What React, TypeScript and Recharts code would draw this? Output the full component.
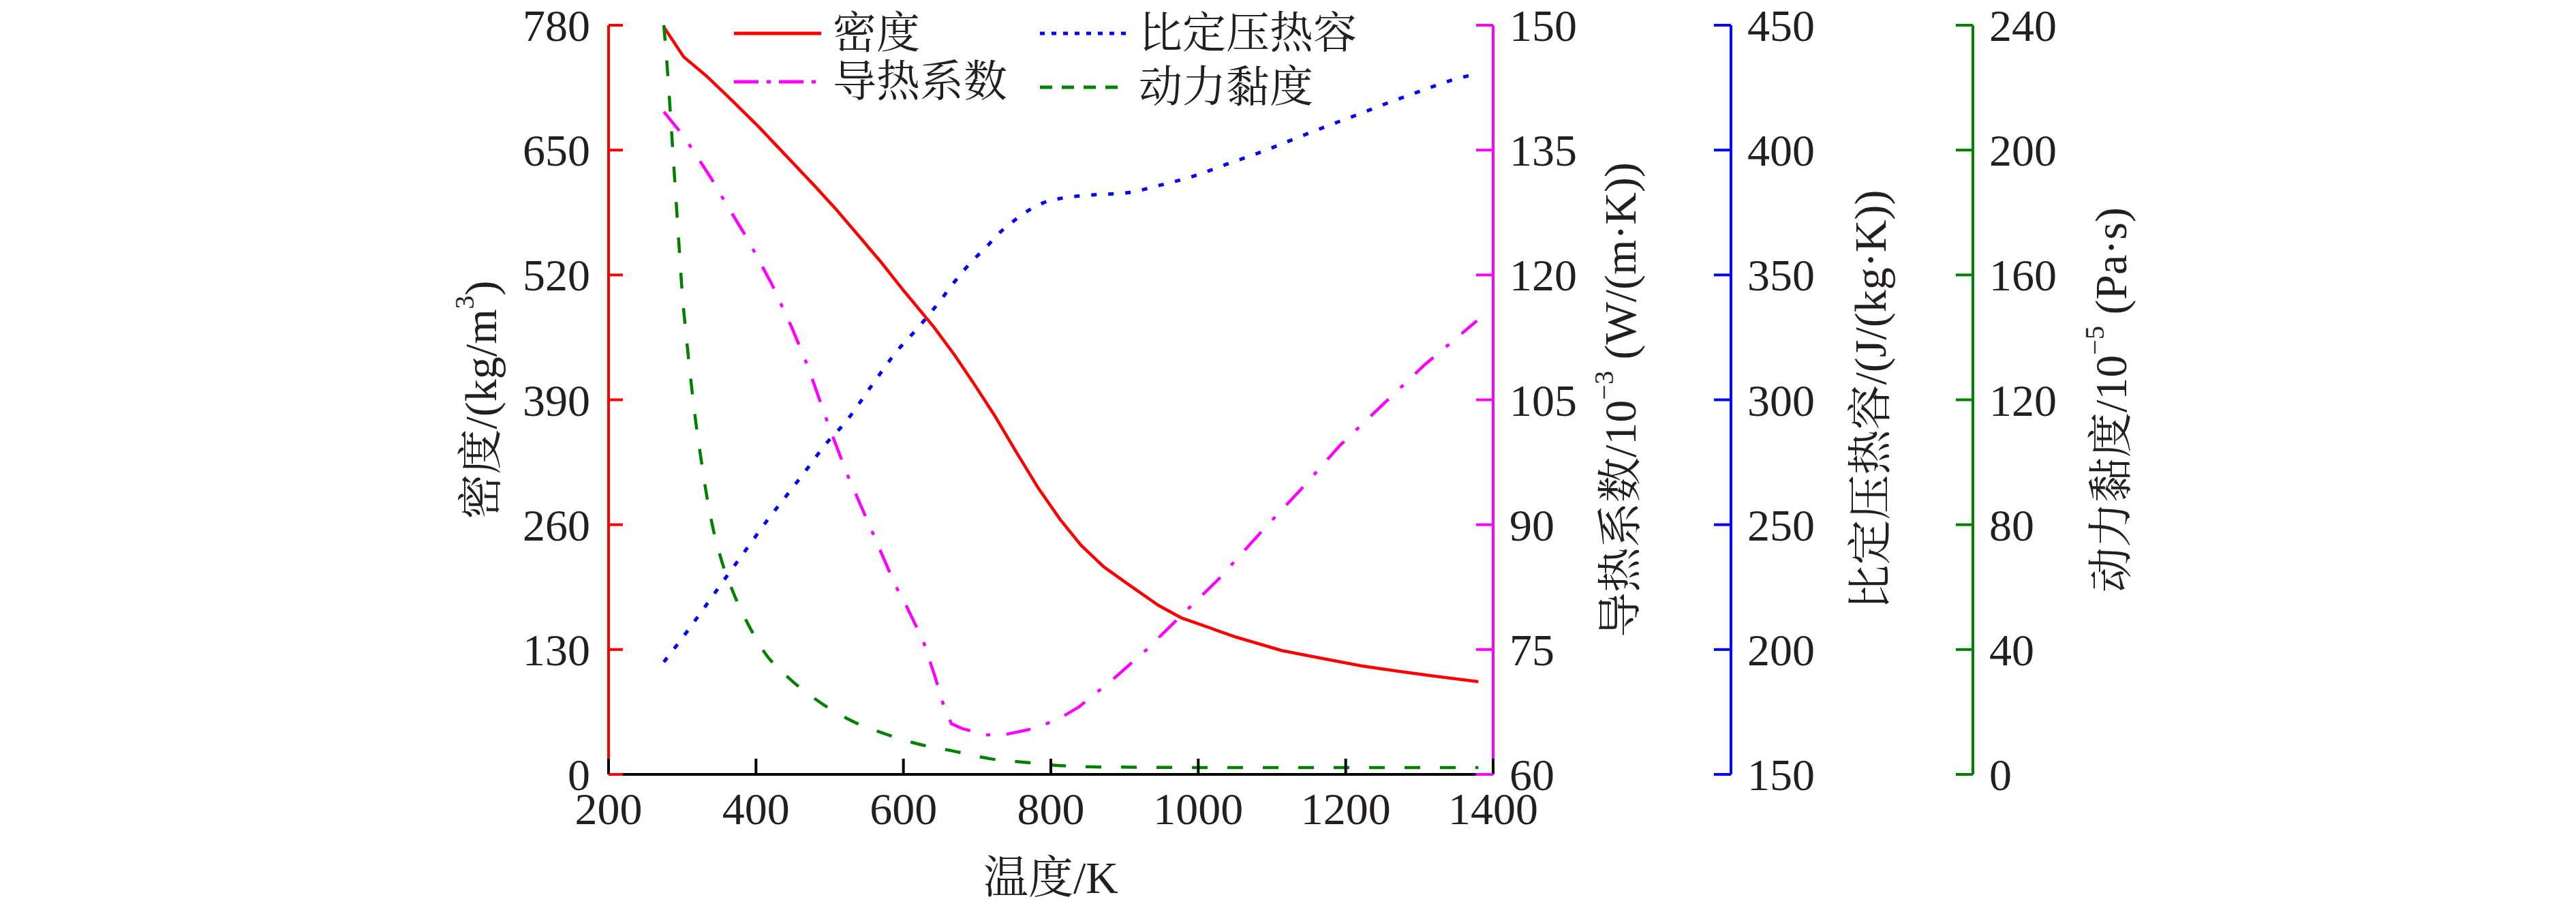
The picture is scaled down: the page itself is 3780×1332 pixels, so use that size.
import { LineChart, Line, XAxis, YAxis, Legend, Label } from "recharts";

// ---- data ----
const tempTicks = [200, 400, 600, 800, 1000, 1200, 1400];
const densityTicks = [0, 130, 260, 390, 520, 650, 780];
const conductTicks = [60, 75, 90, 105, 120, 135, 150];
const heatTicks = [150, 200, 250, 300, 350, 400, 450];
const viscTicks = [0, 40, 80, 120, 160, 200, 240];

const densityT = [275, 302, 333, 367, 404, 441, 478, 509, 539, 570, 601, 641, 669, 696, 724, 752, 783, 813, 841, 872, 903, 946, 977, 1051, 1113, 1170, 1221, 1270, 1323, 1380];
const densityV = [778, 747, 727, 702, 674, 644, 614, 588, 561, 533, 503, 466, 437, 406.4, 373.3, 337, 298, 265, 238.5, 216, 199, 176, 163, 143, 129, 120.5, 113, 107.5, 102, 96.5];

const conductT = [275, 297, 313, 345, 357, 388, 422, 449, 470, 499, 524, 556, 589, 601, 627, 643, 653, 665, 680, 712, 736, 782, 817, 838, 884, 930, 969, 1027, 1085, 1142, 1192, 1250, 1307, 1378];
const conductV = [139.6, 137.2, 135.2, 130.8, 128.9, 124.4, 118.8, 113.6, 109.1, 101.8, 96, 89.5, 82.7, 80.8, 76, 71.7, 68.7, 66.1, 65.5, 64.75, 64.75, 65.6, 67, 68.1, 71.4, 75, 78.4, 83.4, 89.1, 94.5, 99.5, 104.4, 109.2, 114.5];

const heatT = [275, 305, 333, 361, 388, 416, 445, 475, 490, 524, 556, 589, 622, 652, 666, 696, 712, 729, 747, 768, 789, 814, 856, 906, 949, 995, 1041, 1085, 1128, 1171, 1217, 1260, 1304, 1347, 1378];
const heatV = [195, 206.6, 218, 229.6, 240.6, 252, 263, 274.6, 280.6, 292, 305.3, 318.7, 329.6, 340.5, 346, 356.4, 361, 366.5, 371, 375.5, 378.8, 380.7, 382, 383, 386, 389.7, 394.6, 399.2, 404.2, 409.2, 414.3, 419.2, 423.9, 428.3, 430.5];

const viscT = [275, 281, 286, 291, 296, 300, 306, 312, 318, 325, 332, 341, 353, 370, 390, 413, 444, 490, 532, 576, 622, 669, 718, 764, 814, 860, 910, 1000, 1200, 1380];
const viscV = [240, 222, 204, 186, 168, 154, 139, 125.5, 113.5, 101.8, 90.9, 79.6, 68.7, 57.8, 47.8, 38.6, 31, 22.6, 16.9, 12.9, 9.6, 7.4, 5, 3.9, 2.8, 2.4, 2.3, 2.2, 2.2, 2.2];

const zip = (t: number[], v: number[]) => t.map((x, i) => ({ t: x, v: v[i] }));

// ---- styling / layout ----
const FONT = "'Liberation Serif', 'Times New Roman', 'Noto Serif CJK SC', 'Noto Sans CJK SC', serif";
const INK = "#231f20";
const W = 3780;
const H = 1332;
const PLOT_LEFT = 893;
const PLOT_TOP = 37;
const PLOT_BOTTOM = 1136;
const PLOT_MID = (PLOT_TOP + PLOT_BOTTOM) / 2;
const TICK_FONT = 66;
const TITLE_FONT = 66;
const SUP_FONT = 40;
const SUP_RISE = 24;
const RED = "#ff0000";
const MAGENTA = "#ff00ff";
const BLUE = "#0000ff";
const GREEN = "#008000";

const LEGEND = [
  { name: "密度", color: RED, dash: undefined, left: 1077, top: 49 },
  { name: "导热系数", color: MAGENTA, dash: "36 12 6 12", left: 1077, top: 120 },
  { name: "比定压热容", color: BLUE, dash: "7 10", left: 1526, top: 49 },
  { name: "动力黏度", color: GREEN, dash: "18 14", left: 1526, top: 128 },
];

function LeftTick(props: any) {
  const { x, y, payload, color, margin } = props;
  const ax = x + margin;
  return (
    <g>
      <line x1={ax} x2={ax + 21} y1={y} y2={y} stroke={color} strokeWidth={4} />
      <text x={x} y={y + 23} textAnchor="end" fontFamily={FONT} fontSize={TICK_FONT} fill={INK}>
        {payload.value}
      </text>
    </g>
  );
}

function RightTick(props: any) {
  const { x, y, payload, color, margin } = props;
  const ax = x - margin;
  return (
    <g>
      <line x1={ax} x2={ax - 25} y1={y} y2={y} stroke={color} strokeWidth={4} />
      <text x={x} y={y + 23} textAnchor="start" fontFamily={FONT} fontSize={TICK_FONT} fill={INK}>
        {payload.value}
      </text>
    </g>
  );
}

function BottomTick(props: any) {
  const { x, y, payload } = props;
  return (
    <g>
      <line x1={x} x2={x} y1={y} y2={y - 23} stroke="#000" strokeWidth={4} />
      <text x={x} y={y + 73} textAnchor="middle" fontFamily={FONT} fontSize={TICK_FONT} fill={INK}>
        {payload.value}
      </text>
    </g>
  );
}

// rotated axis title: head + superscript + tail
function VTitle({ cx, head, sup, tail }: { cx: number; head: string; sup?: string; tail?: string }) {
  return (
    <text
      x={cx}
      y={PLOT_MID}
      transform={`rotate(-90 ${cx} ${PLOT_MID})`}
      textAnchor="middle"
      dominantBaseline="central"
      fontFamily={FONT}
      fontSize={TITLE_FONT}
      fill={INK}
    >
      <tspan>{head}</tspan>
      {sup ? (
        <tspan dy={-SUP_RISE} fontSize={SUP_FONT}>
          {sup}
        </tspan>
      ) : null}
      {tail ? <tspan dy={sup ? SUP_RISE : 0}>{tail}</tspan> : null}
    </text>
  );
}

function LegendBox() {
  return (
    <div style={{ position: "relative", width: W, height: 200, fontFamily: FONT }}>
      {LEGEND.map((s) => (
        <div
          key={s.name}
          style={{
            position: "absolute",
            left: s.left,
            top: s.top - 40,
            height: 80,
            display: "flex",
            alignItems: "center",
            whiteSpace: "nowrap",
          }}
        >
          <svg width={128} height={10} style={{ display: "block" }}>
            <line x1={0} x2={128} y1={5} y2={5} stroke={s.color} strokeWidth={5} strokeDasharray={s.dash} />
          </svg>
          <span style={{ marginLeft: 17, fontSize: 64, lineHeight: "80px", color: INK }}>{s.name}</span>
        </div>
      ))}
    </div>
  );
}

export default function App() {
  return (
    <div style={{ position: "absolute", left: 0, top: 0, width: W, height: H, background: "#fff" }}>
      <LineChart width={W} height={H} margin={{ top: PLOT_TOP, right: 585, bottom: 0, left: 0 }}>
        <XAxis
          dataKey="t"
          type="number"
          domain={[200, 1400]}
          ticks={tempTicks}
          interval={0}
          allowDataOverflow
          height={H - PLOT_BOTTOM}
          axisLine={{ stroke: "#000", strokeWidth: 4 }}
          tickLine={false}
          tickSize={0}
          tickMargin={0}
          tick={(p: any) => <BottomTick {...p} />}
        >
          <Label
            content={() => (
              <text x={1542} y={1310} textAnchor="middle" fontFamily={FONT} fontSize={TITLE_FONT} fill={INK}>
                温度/K
              </text>
            )}
          />
        </XAxis>
        <YAxis
          yAxisId="y0rho"
          orientation="left"
          width={PLOT_LEFT}
          domain={[0, 780]}
          ticks={densityTicks}
          interval={0}
          axisLine={{ stroke: RED, strokeWidth: 4 }}
          tickLine={false}
          tickSize={0}
          tickMargin={27}
          tick={(p: any) => <LeftTick {...p} color={RED} margin={27} />}
        >
          <Label content={() => <VTitle cx={705} head="密度/(kg/m" sup="3" tail=")" />} />
        </YAxis>
        <YAxis
          yAxisId="y1k"
          orientation="right"
          width={349}
          domain={[60, 150]}
          ticks={conductTicks}
          interval={0}
          axisLine={{ stroke: MAGENTA, strokeWidth: 4 }}
          tickLine={false}
          tickSize={0}
          tickMargin={24}
          tick={(p: any) => <RightTick {...p} color={MAGENTA} margin={24} />}
        >
          <Label content={() => <VTitle cx={2377} head="导热系数/10" sup="−3" tail=" (W/(m·K))" />} />
        </YAxis>
        <YAxis
          yAxisId="y2cp"
          orientation="right"
          width={355}
          domain={[150, 450]}
          ticks={heatTicks}
          interval={0}
          axisLine={{ stroke: BLUE, strokeWidth: 4 }}
          tickLine={false}
          tickSize={0}
          tickMargin={24}
          tick={(p: any) => <RightTick {...p} color={BLUE} margin={24} />}
        >
          <Label content={() => <VTitle cx={2744} head="比定压热容/(J/(kg·K))" />} />
        </YAxis>
        <YAxis
          yAxisId="y3mu"
          orientation="right"
          width={300}
          domain={[0, 240]}
          ticks={viscTicks}
          interval={0}
          axisLine={{ stroke: GREEN, strokeWidth: 4 }}
          tickLine={false}
          tickSize={0}
          tickMargin={24}
          tick={(p: any) => <RightTick {...p} color={GREEN} margin={24} />}
        >
          <Label content={() => <VTitle cx={3097} head="动力黏度/10" sup="−5" tail=" (Pa·s)" />} />
        </YAxis>
        <Legend
          layout="horizontal"
          verticalAlign="middle"
          align="center"
          content={() => <LegendBox />}
          wrapperStyle={{ position: "absolute", left: 0, top: 0, width: W, height: 200 }}
        />
        <Line
          yAxisId="y0rho"
          data={zip(densityT, densityV)}
          dataKey="v"
          name="密度"
          type="linear"
          stroke={RED}
          strokeWidth={4.5}
          dot={false}
          isAnimationActive={false}
        />
        <Line
          yAxisId="y1k"
          data={zip(conductT, conductV)}
          dataKey="v"
          name="导热系数"
          type="linear"
          stroke={MAGENTA}
          strokeWidth={4.5}
          strokeDasharray="36 24 6 24"
          dot={false}
          isAnimationActive={false}
        />
        <Line
          yAxisId="y2cp"
          data={zip(heatT, heatV)}
          dataKey="v"
          name="比定压热容"
          type="monotone"
          stroke={BLUE}
          strokeWidth={5}
          strokeDasharray="8 17"
          dot={false}
          isAnimationActive={false}
        />
        <Line
          yAxisId="y3mu"
          data={zip(viscT, viscV)}
          dataKey="v"
          name="动力黏度"
          type="monotone"
          stroke={GREEN}
          strokeWidth={4.5}
          strokeDasharray="23 29"
          dot={false}
          isAnimationActive={false}
        />
      </LineChart>
    </div>
  );
}
